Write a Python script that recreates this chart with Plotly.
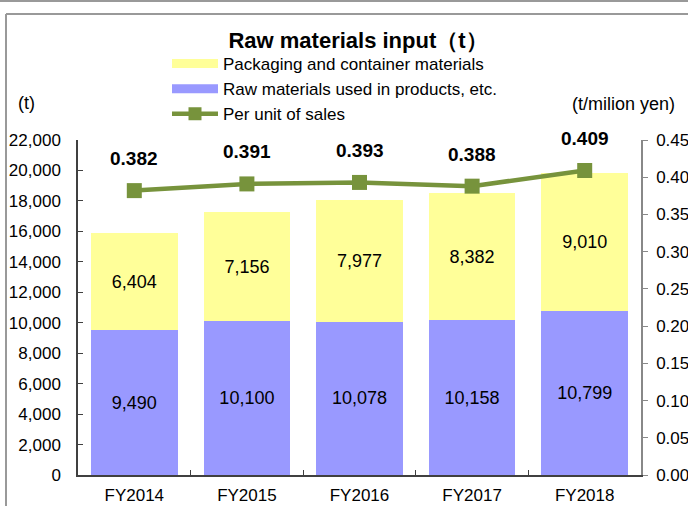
import plotly.graph_objects as go

years = ["FY2014", "FY2015", "FY2016", "FY2017", "FY2018"]
raw_materials = [9490, 10100, 10078, 10158, 10799]
packaging = [6404, 7156, 7977, 8382, 9010]
per_unit = [0.382, 0.391, 0.393, 0.388, 0.409]

YELLOW = "#FFFF99"
BLUE = "#9999FF"
GREEN = "#77933C"
FONT = "Liberation Sans, Arial, sans-serif"

# plot area in pixels
L, R, T, B = 78, 641, 140, 475
W, H = 688, 506
def px_x(x):
    return (x - L) / (R - L)
def px_y(y):
    return (B - y) / (B - T)

fig = go.Figure()
fig.add_trace(go.Bar(
    x=years, y=raw_materials, name="Raw materials used in products, etc.",
    marker=dict(color=BLUE, line=dict(width=0)),
    texttemplate="%{y:,}", textposition="inside", insidetextanchor="middle",
    textfont=dict(size=18, color="black", family=FONT), showlegend=False,
    constraintext="none",
))
fig.add_trace(go.Bar(
    x=years, y=packaging, name="Packaging and container materials",
    marker=dict(color=YELLOW, line=dict(width=0)),
    texttemplate="%{y:,}", textposition="inside", insidetextanchor="middle",
    textfont=dict(size=18, color="black", family=FONT), showlegend=False,
    constraintext="none",
))
fig.add_trace(go.Scatter(
    x=years, y=per_unit, name="Per unit of sales", yaxis="y2",
    mode="lines+markers",
    line=dict(color=GREEN, width=4.5),
    marker=dict(symbol="square", size=15, color=GREEN),
    showlegend=False,
))

# legend entries (swatches only)
fig.add_trace(go.Scatter(x=[None], y=[None], name="Packaging and container materials",
                         mode="lines", line=dict(color=YELLOW, width=9)))
fig.add_trace(go.Scatter(x=[None], y=[None], name="Raw materials used in products, etc.",
                         mode="lines", line=dict(color=BLUE, width=9)))
fig.add_trace(go.Scatter(x=[None], y=[None], name="Per unit of sales", yaxis="y2",
                         mode="lines+markers", line=dict(color=GREEN, width=4.5),
                         marker=dict(symbol="square", size=13, color=GREEN)))

annotations = []
for yr, v in zip(years, per_unit):
    annotations.append(dict(
        x=yr, y=v, xref="x", yref="y2", text=f"<b>{v:.3f}</b>", showarrow=False,
        yshift=32, font=dict(size=19, color="black", family=FONT),
    ))
annotations.append(dict(x=px_x(26), y=px_y(103), xref="paper", yref="paper", text="(t)",
                        xanchor="center", yanchor="middle",
                        showarrow=False, font=dict(size=18, color="black", family=FONT)))
annotations.append(dict(x=px_x(623), y=px_y(104), xref="paper", yref="paper",
                        xanchor="center", yanchor="middle",
                        text="(t/milion yen)", showarrow=False,
                        font=dict(size=18, color="black", family=FONT)))

shapes = [
    dict(type="line", xref="paper", yref="paper", x0=px_x(0), x1=px_x(W), y0=px_y(1), y1=px_y(1),
         line=dict(color="#999999", width=2)),
    dict(type="line", xref="paper", yref="paper", x0=px_x(6), x1=px_x(W + 5), y0=px_y(14), y1=px_y(14),
         line=dict(color="#999999", width=2)),
    dict(type="line", xref="paper", yref="paper", x0=px_x(6), x1=px_x(6), y0=px_y(14), y1=px_y(H + 5),
         line=dict(color="#999999", width=2)),
]

fig.update_layout(
    width=W, height=H,
    margin=dict(l=L, r=W - R, t=T, b=H - B, autoexpand=False),
    paper_bgcolor="white", plot_bgcolor="white",
    barmode="stack", bargap=0.23,
    font=dict(family=FONT, size=17, color="black"),
    title=dict(text="<b>Raw materials input（t）</b>", x=358 / W, y=1 - 40 / H,
               xref="container", yref="container", xanchor="center", yanchor="middle",
               font=dict(size=22, color="black", family=FONT)),
    legend=dict(x=px_x(167), y=px_y(46), xanchor="left", yanchor="top",
                font=dict(size=17, color="black", family=FONT), traceorder="normal",
                bgcolor="rgba(0,0,0,0)", tracegroupgap=0, itemwidth=46),
    xaxis=dict(type="category", showline=True, linecolor="#404040", linewidth=1.5,
               ticks="inside", ticklen=5, tickcolor="#404040", tickson="boundaries",
               ticklabelstandoff=4, tickfont=dict(size=17), showgrid=False),
    yaxis=dict(range=[0, 22000], dtick=2000, tickformat=",", showline=True,
               linecolor="#404040", linewidth=1.5, ticks="inside", ticklen=5,
               tickcolor="#404040", showgrid=False, zeroline=False,
               ticklabelstandoff=12, tickfont=dict(size=17)),
    yaxis2=dict(range=[0, 0.45], dtick=0.05, tickformat=".2f", overlaying="y", side="right",
                showline=True, linecolor="#888888", linewidth=1.5, ticks="outside", ticklen=5,
                tickcolor="#888888", showgrid=False, zeroline=False,
                ticklabelstandoff=5, tickfont=dict(size=17)),
    annotations=annotations,
    shapes=shapes,
)

fig.write_html("out.html", config={"displayModeBar": False},
               post_script="document.body.style.margin='0';document.body.style.overflow='hidden';")
